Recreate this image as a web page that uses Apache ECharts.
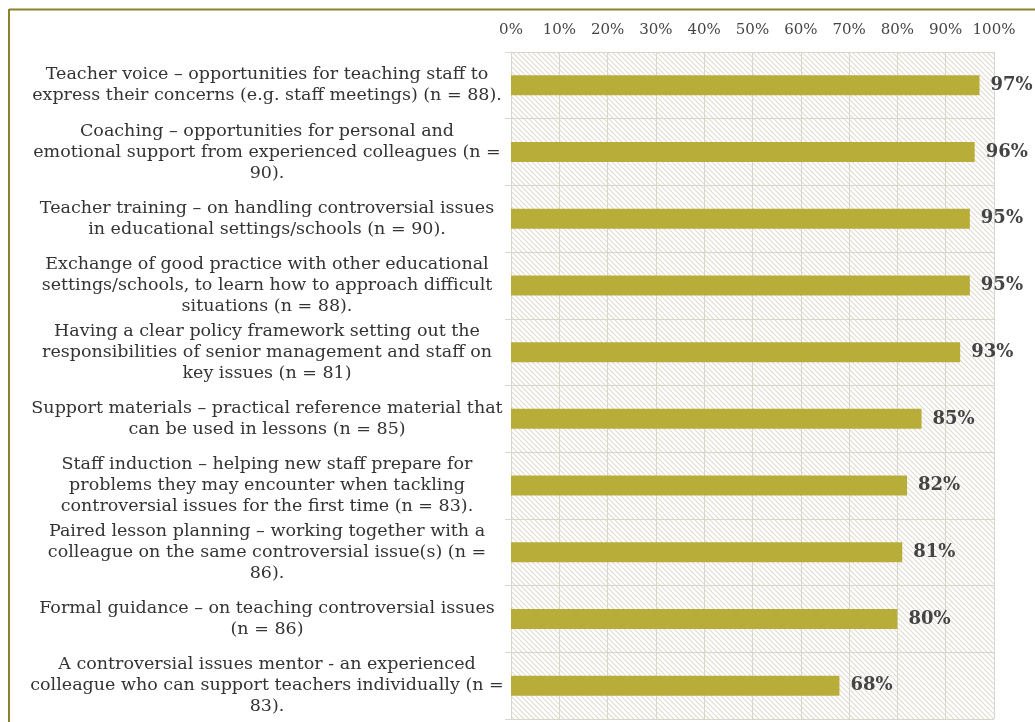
<!DOCTYPE html>
<html>
<head>
<meta charset="utf-8">
<script src="https://cdn.jsdelivr.net/npm/echarts@6/dist/echarts.min.js"></script>
<style>
html,body{margin:0;padding:0;background:#fff;}
#chart{width:1035px;height:722px;}
</style>
</head>
<body>
<div id="chart"></div>
<script>
const categories = [
  "Teacher voice – opportunities for teaching staff to\nexpress their concerns (e.g. staff meetings) (n = 88).",
  "Coaching – opportunities for personal and\nemotional support from experienced colleagues (n =\n90).",
  "Teacher training – on handling controversial issues\nin educational settings/schools (n = 90).",
  "Exchange of good practice with other educational\nsettings/schools, to learn how to approach difficult\nsituations (n = 88).",
  "Having a clear policy framework setting out the\nresponsibilities of senior management and staff on\nkey issues (n = 81)",
  "Support materials – practical reference material that\ncan be used in lessons (n = 85)",
  "Staff induction – helping new staff prepare for\nproblems they may encounter when tackling\ncontroversial issues for the first time (n = 83).",
  "Paired lesson planning – working together with a\ncolleague on the same controversial issue(s) (n =\n86).",
  "Formal guidance – on teaching controversial issues\n(n = 86)",
  "A controversial issues mentor - an experienced\ncolleague who can support teachers individually (n =\n83)."
];
const values = [97, 96, 95, 95, 93, 85, 82, 81, 80, 68];
const tickValues = [0, 10, 20, 30, 40, 50, 60, 70, 80, 90, 100];

// hatch pattern
const pc = document.createElement('canvas');
pc.width = 5; pc.height = 5;
const pctx = pc.getContext('2d');
pctx.fillStyle = '#ffffff';
pctx.fillRect(0, 0, 5, 5);
pctx.strokeStyle = '#dedbcf';
pctx.lineWidth = 1.1;
pctx.beginPath();
pctx.moveTo(-1, -1); pctx.lineTo(6, 6);
pctx.moveTo(-1, 4); pctx.lineTo(1, 6);
pctx.moveTo(4, -1); pctx.lineTo(6, 1);
pctx.stroke();

const FONT = '"DejaVu Serif", serif';
const chart = echarts.init(document.getElementById('chart'));
chart.setOption({
  backgroundColor: '#ffffff',
  animation: false,
  grid: {
    left: 511, right: 41, top: 52, bottom: 3,
    show: true,
    backgroundColor: { image: pc, repeat: 'repeat' },
    borderWidth: 0
  },
  xAxis: {
    type: 'value',
    position: 'top',
    min: tickValues[0],
    max: tickValues[tickValues.length - 1],
    interval: 10,
    axisLine: { show: false },
    axisTick: { show: false },
    axisLabel: {
      formatter: '{value}%',
      fontFamily: FONT,
      fontSize: 15,
      color: '#444',
      margin: 14
    },
    splitLine: { show: true, lineStyle: { color: '#d9d7cc', width: 1 } }
  },
  yAxis: {
    type: 'category',
    inverse: true,
    data: categories,
    axisLine: { show: true, lineStyle: { color: '#d9d7cc' } },
    axisTick: { show: true, length: 6, lineStyle: { color: '#d9d7cc' } },
    splitLine: { show: true, lineStyle: { color: '#d9d7cc', width: 1 } },
    axisLabel: {
      fontFamily: FONT,
      fontSize: 17.5,
      lineHeight: 21,
      color: '#333',
      align: 'center',
      margin: 244
    }
  },
  series: [{
    type: 'bar',
    data: values,
    barWidth: '30%',
    itemStyle: { color: '#b8ad38' },
    label: {
      show: true,
      position: 'right',
      distance: 11,
      formatter: '{c}%',
      fontFamily: FONT,
      fontSize: 18,
      fontWeight: 'bold',
      color: '#444'
    }
  }],
  graphic: [
    { type: 'line', shape: { x1: 9, y1: 9.5, x2: 1035, y2: 9.5 }, style: { stroke: '#8b8230', lineWidth: 2 } },
    { type: 'line', shape: { x1: 9, y1: 9, x2: 9, y2: 722 }, style: { stroke: '#8b8230', lineWidth: 2 } }
  ]
});
</script>
</body>
</html>
